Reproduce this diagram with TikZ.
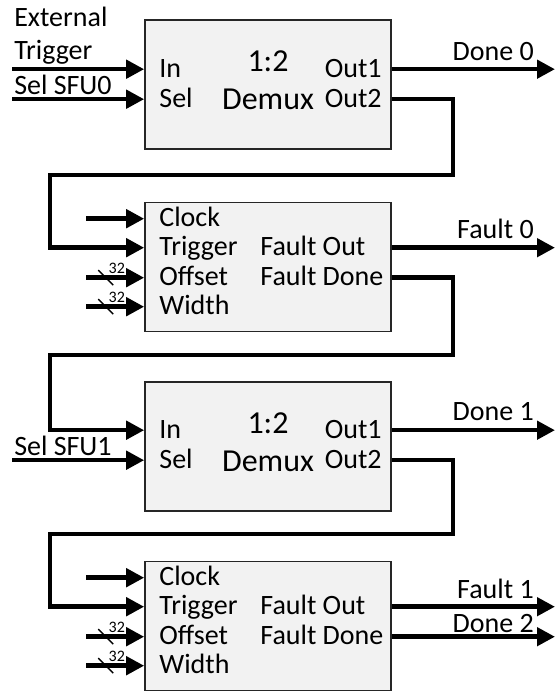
\documentclass[tikz,border=0pt]{standalone}
\usepackage{fontspec}
\setmainfont{Carlito}
\usepackage{tikz}
\usetikzlibrary{arrows.meta}

\begin{document}
\begin{tikzpicture}[x=1pt,y=-1pt,
    blk/.style={draw=black!85,line width=1.6pt,fill=black!5,minimum width=246pt,minimum height=129pt,inner sep=0pt},
    lbl/.style={font=\fontsize{28}{33}\selectfont,inner sep=0pt},
    port/.style={lbl,text height=17pt,text depth=1pt},
    big/.style={font=\fontsize{32}{37}\selectfont,inner sep=0pt,text height=20pt,text depth=2pt},
    sig/.style={line width=4.5pt,-{Triangle[length=18pt,width=18pt]}},
    bus/.style={font=\fontsize{16}{18}\selectfont,inner sep=0pt}]
    \useasboundingbox (0,0) rectangle (556,692);
    \coordinate (dR) at (0,30);
    \coordinate (lft) at (12,0);
    \coordinate (stub) at (86,0);
    \coordinate (rgt) at (555,0);
    \coordinate (lpL) at (50,0);
    \coordinate (lp1) at (453,175);
    \coordinate (lp2) at (453,355);
    \coordinate (lp3) at (453,534);

    % demux 1
    \node[blk] (dmx1) at (268,84.5) {};
    \path[every node/.style={port,anchor=west}] (dmx1.north west) ++(15,50) node(dmx1in){In} ++(dR) node(dmx1sel){Sel};
    \path[every node/.style={port,anchor=east}] (dmx1.north east) ++(-10,50) node(dmx1o1){Out1} ++(dR) node(dmx1o2){Out2};
    \path (dmx1.north) ++(0,43.5) node[big](dmx1r){1:2} ++(0,38) node[big](dmx1t){Demux};

    % fault generator 1
    \node[blk] (gen1) at (268,267) {};
    \path[every node/.style={port,anchor=west}] (gen1.north west) ++(15,17) node(gen1clk){Clock}
        ++(0,29) node(gen1trg){Trigger} ++(dR) node(gen1off){Offset} ++(0,29) node(gen1wid){Width};
    \path[every node/.style={port,anchor=west}] (gen1.north west) ++(116,46) node(gen1fo){Fault Out} ++(dR) node(gen1fd){Fault Done};

    % demux 2
    \node[blk] (dmx2) at (268,446.5) {};
    \path[every node/.style={port,anchor=west}] (dmx2.north west) ++(15,49) node(dmx2in){In} ++(dR) node(dmx2sel){Sel};
    \path[every node/.style={port,anchor=east}] (dmx2.north east) ++(-10,49) node(dmx2o1){Out1} ++(dR) node(dmx2o2){Out2};
    \path (dmx2.north) ++(0,43.5) node[big](dmx2r){1:2} ++(0,38) node[big](dmx2t){Demux};

    % fault generator 2
    \node[blk] (gen2) at (268,626) {};
    \path[every node/.style={port,anchor=west}] (gen2.north west) ++(15,17) node(gen2clk){Clock}
        ++(0,29) node(gen2trg){Trigger} ++(dR) node(gen2off){Offset} ++(0,29) node(gen2wid){Width};
    \path[every node/.style={port,anchor=west}] (gen2.north west) ++(116,46) node(gen2fo){Fault Out} ++(dR) node(gen2fd){Fault Done};

    % inputs
    \draw[sig] (dmx1in.west -| lft) node[lbl,anchor=south west,align=left,yshift=3pt]{External\\Trigger} -- (dmx1in.west -| dmx1.west);
    \draw[sig] (dmx1sel.west -| lft) node[lbl,anchor=base west,yshift=5pt]{Sel SFU0} -- (dmx1sel.west -| dmx1.west);
    \draw[sig] (dmx2sel.west -| lft) node[lbl,anchor=base west,yshift=5pt]{Sel SFU1} -- (dmx2sel.west -| dmx2.west);
    \draw[sig] (gen1clk.west -| stub) -- (gen1clk.west -| gen1.west);
    \draw[sig] (gen2clk.west -| stub) -- (gen2clk.west -| gen2.west);
    \foreach \p/\b in {gen1off/gen1,gen1wid/gen1,gen2off/gen2,gen2wid/gen2}{
        \draw[sig] (\p.west -| stub) -- coordinate[pos=0.34](\p m) (\p.west -| \b.west);
        \draw[line width=1.3pt] ([shift={(-7.5,-7.5)}]\p m) -- ([shift={(7.5,7.5)}]\p m);
        \node[bus,anchor=base] at ([shift={(11,-4)}]\p m) {32};
    }

    % outputs
    \draw[sig] (dmx1o1.east -| dmx1.east) -- (dmx1o1.east -| rgt) node[lbl,anchor=base east,xshift=-19pt,yshift=9pt]{Done 0};
    \draw[sig] (gen1fo.east -| gen1.east) -- (gen1fo.east -| rgt) node[lbl,anchor=base east,xshift=-19pt,yshift=9pt]{Fault 0};
    \draw[sig] (dmx2o1.east -| dmx2.east) -- (dmx2o1.east -| rgt) node[lbl,anchor=base east,xshift=-19pt,yshift=10pt]{Done 1};
    \draw[sig] (gen2fo.east -| gen2.east) -- (gen2fo.east -| rgt) node[lbl,anchor=base east,xshift=-19pt,yshift=8pt]{Fault 1};
    \draw[sig] (gen2fd.east -| gen2.east) -- (gen2fd.east -| rgt) node[lbl,anchor=base east,xshift=-19pt,yshift=4pt]{Done 2};

    % chain
    \draw[sig] (dmx1o2.east -| dmx1.east) -| (lp1) -| (gen1trg.west -| lpL) -- (gen1trg.west -| gen1.west);
    \draw[sig] (gen1fd.east -| gen1.east) -| (lp2) -| (dmx2in.west -| lpL) -- (dmx2in.west -| dmx2.west);
    \draw[sig] (dmx2o2.east -| dmx2.east) -| (lp3) -| (gen2trg.west -| lpL) -- (gen2trg.west -| gen2.west);
\end{tikzpicture}
\end{document}
